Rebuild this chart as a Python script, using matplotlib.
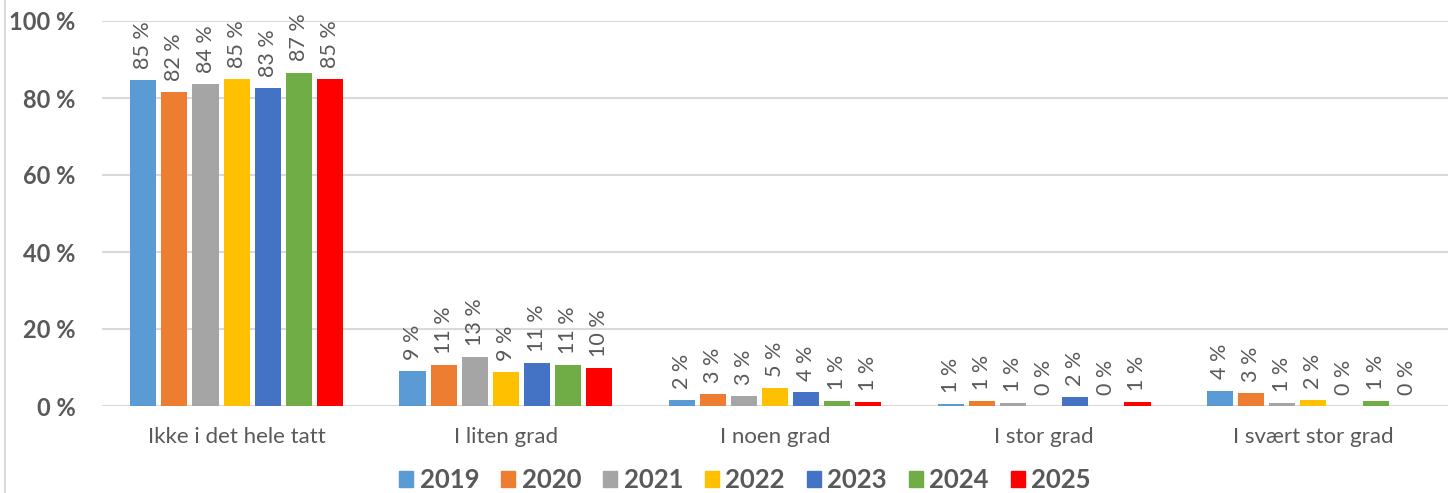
import numpy as np
import matplotlib
matplotlib.use('Agg')
import matplotlib.pyplot as plt
from matplotlib.lines import Line2D
import matplotlib.patches as mpatches

plt.rcParams['font.family'] = ['Lato', 'DejaVu Sans']

categories = ['Ikke i det hele tatt', 'I liten grad', 'I noen grad',
              'I stor grad', 'I svært stor grad']
years = ['2019', '2020', '2021', '2022', '2023', '2024', '2025']
colors = ['#5b9bd5', '#ed7d31', '#a5a5a5', '#ffc000', '#4472c4', '#70ad47', '#ff0000']

v2019 = [84.7, 9.1, 1.5, 0.6, 4.0]
v2020 = [81.6, 10.6, 3.0, 1.2, 3.4]
v2021 = [83.6, 12.6, 2.6, 0.7, 0.7]
v2022 = [84.9, 8.8, 4.6, 0.0, 1.6]
v2023 = [82.6, 11.2, 3.7, 2.4, 0.0]
v2024 = [86.6, 10.6, 1.2, 0.0, 1.2]
v2025 = [84.9, 9.9, 1.0, 1.0, 0.0]
series = [v2019, v2020, v2021, v2022, v2023, v2024, v2025]

TXT = '#595959'
GRID = '#d9d9d9'

fig = plt.figure(figsize=(14.48, 4.93), dpi=100)
ax = fig.add_axes([102 / 1448, 87 / 493, 1346 / 1448, 385 / 493])

x = np.arange(len(categories))
pitch = 0.1155
width = 0.097
for i, (yr, vals, c) in enumerate(zip(years, series, colors)):
    pos = x + (i - 3) * pitch
    bars = ax.bar(pos, vals, width=width, color=c, label=yr, zorder=3)
    for b, v in zip(bars, vals):
        ax.annotate(f'{round(v):d} %', xy=(b.get_x() + b.get_width() / 2, v),
                    xytext=(0, 8), textcoords='offset points',
                    rotation=90, ha='center', va='bottom',
                    fontsize=15.5, color=TXT, zorder=4)

ax.set_xlim(-0.5, 4.5)
ax.set_ylim(0, 100)
ax.set_yticks([0, 20, 40, 60, 80, 100])
ax.set_yticklabels([f'{t} %' for t in [0, 20, 40, 60, 80, 100]],
                   fontsize=17, fontweight='bold', color=TXT)
ax.set_xticks(x)
ax.set_xticklabels(categories, fontsize=16, color=TXT)
ax.tick_params(axis='both', length=0)
ax.tick_params(axis='y', pad=19)
ax.tick_params(axis='x', pad=15)
ax.yaxis.grid(True, color=GRID, linewidth=1.5, zorder=0)
ax.set_axisbelow(True)
for s in ax.spines.values():
    s.set_visible(False)

handles = [mpatches.Patch(color=c, label=y) for y, c in zip(years, colors)]
leg = fig.legend(handles=handles, loc='center', bbox_to_anchor=(745 / 1448, 13 / 493),
                 ncol=7, frameon=False, handlelength=0.55, handleheight=0.55,
                 handletextpad=0.25, columnspacing=0.85,
                 prop={'size': 18.5, 'weight': 'bold'})
for t in leg.get_texts():
    t.set_color(TXT)

fig.add_artist(Line2D([5 / 1448, 5 / 1448], [0, 1], color=GRID, linewidth=1.5))

fig.savefig('out.png', dpi=100)
